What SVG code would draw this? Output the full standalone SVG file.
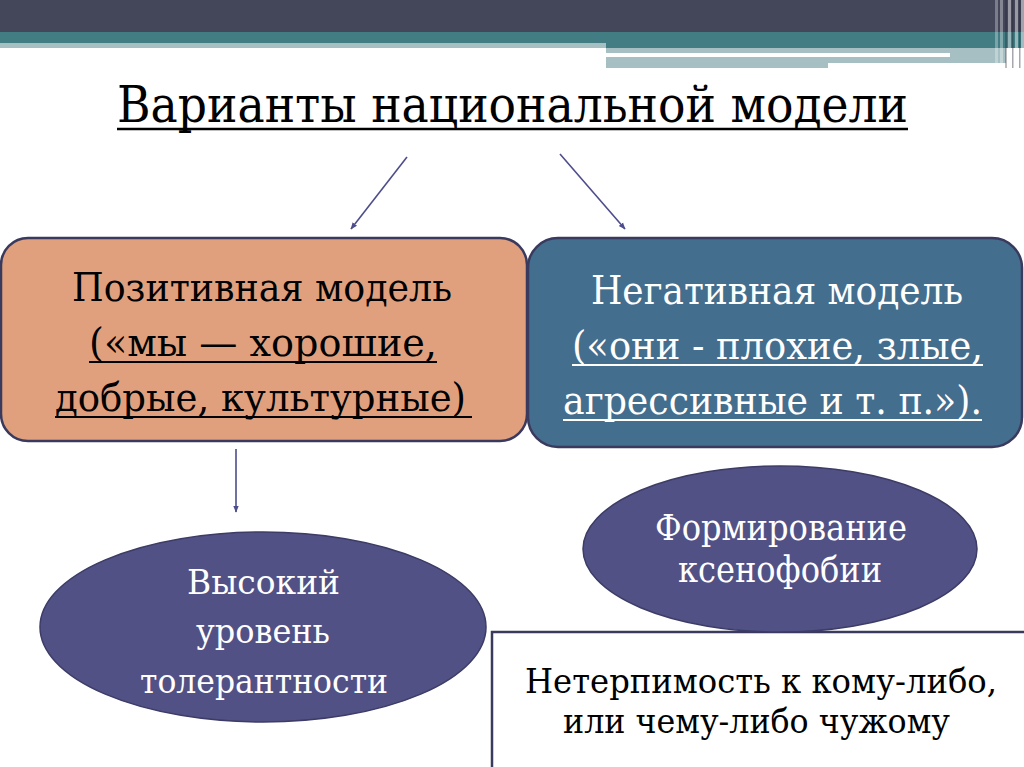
<svg xmlns="http://www.w3.org/2000/svg" width="1024" height="767" viewBox="0 0 1024 767">
<defs>
<marker id="ah" viewBox="0 0 10 10" refX="9" refY="5" markerWidth="7" markerHeight="7" orient="auto" markerUnits="userSpaceOnUse">
<path d="M0,1 L10,5 L0,9 z" fill="#4d4d8c"/>
</marker>
<style>
text{font-family:"DejaVu Serif","Liberation Serif",serif;text-anchor:middle}
.conn{stroke:#4d4d8c;stroke-width:1.6;fill:none;marker-end:url(#ah)}
.ell{fill:#515186;stroke:#3c3c66;stroke-width:1.5}
.w{fill:#ffffff}
.k{fill:#000000}
.ulk{stroke:#000000;stroke-width:2}
.ulw{stroke:#ffffff;stroke-width:2}
</style>
</defs>
<rect width="1024" height="767" fill="#ffffff"/>
<g id="header">
<rect x="0" y="0" width="1024" height="32" fill="#444659"/>
<rect x="0" y="32" width="1024" height="16" fill="#417d83"/>
<rect x="0" y="43" width="606" height="5" fill="#a6bfc3"/>
<rect x="606" y="48" width="400" height="15" fill="#a6bfc3"/>
<rect x="606" y="48" width="222" height="20" fill="#a6bfc3"/>
<rect x="606" y="53" width="344" height="4" fill="#ffffff"/>
<rect x="995" y="0" width="3" height="66" fill="#ffffff" opacity="0.3"/>
<rect x="1000" y="0" width="3" height="66" fill="#ffffff" opacity="0.35"/>
<rect x="1005" y="0" width="2" height="68" fill="#222233" opacity="0.3"/>
<rect x="1008" y="0" width="3" height="68" fill="#ffffff" opacity="0.45"/>
<rect x="1012" y="0" width="1.5" height="68" fill="#222233" opacity="0.4"/>
<rect x="1015" y="0" width="3" height="68" fill="#ffffff" opacity="0.45"/>
<rect x="1019" y="0" width="1.5" height="68" fill="#222233" opacity="0.4"/>
<rect x="1021" y="0" width="3" height="68" fill="#ffffff" opacity="0.5"/>
</g>
<g id="title">
<text x="512.5" y="122" font-size="50" class="k" textLength="791" lengthAdjust="spacingAndGlyphs">Варианты национальной модели</text>
<line x1="117" y1="129" x2="908" y2="129" stroke="#000" stroke-width="2.5"/>
</g>
<g id="positive">
<rect x="1" y="238" width="526" height="203" rx="27" fill="#e0a07e" stroke="#3a3a5e" stroke-width="2.5"/>
<text x="262" y="301" font-size="40" class="k" textLength="380" lengthAdjust="spacingAndGlyphs">Позитивная модель</text>
<text x="263" y="356" font-size="40" class="k" textLength="348" lengthAdjust="spacingAndGlyphs">(«мы — хорошие,</text>
<line x1="89" y1="362" x2="437" y2="362" class="ulk"/>
<text x="260.5" y="411" font-size="40" class="k" textLength="411" lengthAdjust="spacingAndGlyphs">добрые, культурные)</text>
<line x1="55" y1="417" x2="472" y2="417" class="ulk"/>
</g>
<g id="negative">
<rect x="528" y="238" width="494" height="209" rx="30" fill="#446e8e" stroke="#3a3a5e" stroke-width="2.5"/>
<text x="777" y="304" font-size="40" class="w" textLength="372" lengthAdjust="spacingAndGlyphs">Негативная модель</text>
<text x="777.5" y="359" font-size="40" class="w" textLength="411" lengthAdjust="spacingAndGlyphs">(«они - плохие, злые,</text>
<line x1="572" y1="365" x2="983" y2="365" class="ulw"/>
<text x="772.5" y="414" font-size="40" class="w" textLength="419" lengthAdjust="spacingAndGlyphs">агрессивные и т. п.»).</text>
<line x1="563" y1="420" x2="982" y2="420" class="ulw"/>
</g>
<g id="intolerance">
<rect x="492" y="632" width="560" height="160" fill="#ffffff" stroke="#3a3a5e" stroke-width="2.5"/>
<text x="761" y="693" font-size="34" class="k" textLength="472" lengthAdjust="spacingAndGlyphs">Нетерпимость к кому-либо,</text>
<text x="756.5" y="733" font-size="34" class="k" textLength="387" lengthAdjust="spacingAndGlyphs">или чему-либо чужому</text>
</g>
<g id="tolerance">
<ellipse cx="263" cy="627" rx="223" ry="95" class="ell"/>
<text x="263.5" y="594" font-size="34" class="w" textLength="153" lengthAdjust="spacingAndGlyphs">Высокий</text>
<text x="263" y="643" font-size="34" class="w" textLength="134" lengthAdjust="spacingAndGlyphs">уровень</text>
<text x="264" y="693" font-size="34" class="w" textLength="248" lengthAdjust="spacingAndGlyphs">толерантности</text>
</g>
<g id="xenophobia">
<ellipse cx="780" cy="549" rx="197" ry="83" class="ell"/>
<text x="781" y="540" font-size="35" class="w" textLength="252" lengthAdjust="spacingAndGlyphs">Формирование</text>
<text x="780" y="582" font-size="35" class="w" textLength="204" lengthAdjust="spacingAndGlyphs">ксенофобии</text>
</g>
<g id="connectors">
<line x1="407" y1="157" x2="351" y2="229" class="conn"/>
<line x1="560" y1="154" x2="625" y2="229" class="conn"/>
<line x1="236" y1="449" x2="236" y2="512" class="conn"/>
</g>
</svg>
